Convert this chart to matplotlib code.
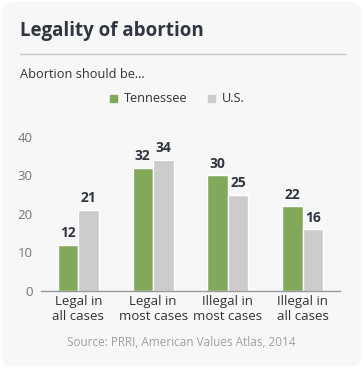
import matplotlib.pyplot as plt
import numpy as np
from matplotlib.patches import FancyBboxPatch, Rectangle
from matplotlib.lines import Line2D

categories = ["Legal in\nall cases", "Legal in\nmost cases", "Illegal in\nmost cases", "Illegal in\nall cases"]
tennessee = [12, 32, 30, 22]
us = [21, 34, 25, 16]
yticks = [0, 10, 20, 30, 40]

GREEN = "#82a95a"
GRAY = "#cccccc"
BG = "#f7f7f7"
DARK = "#2f3640"

plt.rcParams["font.family"] = ["Open Sans", "DejaVu Sans"]

W, H = 363, 369
fig = plt.figure(figsize=(W / 100, H / 100), dpi=100)
fig.patch.set_facecolor("white")

# rounded card background
card = FancyBboxPatch((2 / W, 2 / H), (W - 4) / W, (H - 4) / H,
                      boxstyle="round,pad=0,rounding_size=0.03",
                      transform=fig.transFigure, facecolor=BG, edgecolor="none",
                      zorder=-10)
fig.patches.append(card)

def fy(py):
    return 1 - py / H

fig.text(20 / W, fy(31), "Legality of abortion", fontsize=13.5, fontweight="bold",
         color=DARK, va="center", ha="left")
fig.add_artist(Line2D([20 / W, 345 / W], [fy(54), fy(54)], color="#c8c8c8", lw=1,
                      transform=fig.transFigure))
fig.text(20 / W, fy(74), "Abortion should be...", fontsize=9.2, color="#333333",
         va="center", ha="left")

# legend
for x0, lab, c in [(110, "Tennessee", GREEN), (208, "U.S.", GRAY)]:
    fig.patches.append(Rectangle((x0 / W, fy(102)), 7 / W, 7 / H, color=c,
                                 transform=fig.transFigure))
    fig.text((x0 + 14) / W, fy(98), lab, fontsize=9.2, color="#333333",
             va="center", ha="left")

ax = fig.add_axes([41 / W, fy(291), (340 - 41) / W, (291 - 136.7) / H])
ax.set_facecolor("none")

x = np.arange(len(categories))
bw = 0.275
b1 = ax.bar(x - bw / 2, tennessee, bw, color=GREEN, edgecolor="white", linewidth=1)
b2 = ax.bar(x + bw / 2, us, bw, color=GRAY, edgecolor="white", linewidth=1)
for bars in (b1, b2):
    for r in bars:
        ax.text(r.get_x() + r.get_width() / 2, r.get_height() + 1.2, str(int(r.get_height())),
                ha="center", va="bottom", fontsize=10, fontweight="bold", color=DARK,
                clip_on=False)

ax.set_xlim(-0.5, 3.5)
ax.set_ylim(0, 40)
ax.set_yticks(yticks)
ax.set_xticks(x)
ax.set_xticklabels(categories, fontsize=9.5, color="#333333", linespacing=1.15)
ax.tick_params(axis="y", length=0, pad=6, labelsize=9.5, labelcolor="#777777")
ax.tick_params(axis="x", length=0, pad=3)
for s in ["top", "right", "left"]:
    ax.spines[s].set_visible(False)
ax.spines["bottom"].set_color("#999999")
ax.spines["bottom"].set_linewidth(1)

fig.text(181 / W, fy(343), "Source: PRRI, American Values Atlas, 2014", fontsize=8.5,
         color="#a0a0a0", ha="center", va="center")

fig.savefig("out.png", dpi=100, facecolor="white")
